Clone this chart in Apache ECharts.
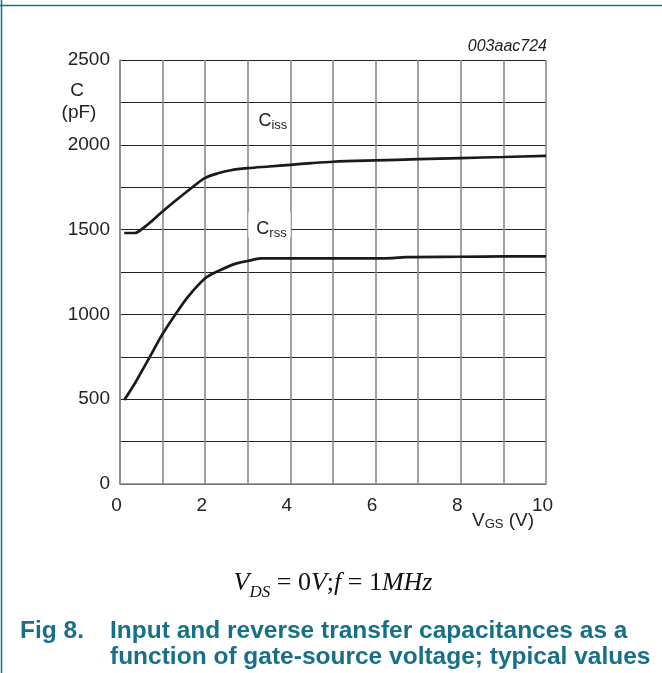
<!DOCTYPE html>
<html>
<head>
<meta charset="utf-8">
<script src="https://cdn.jsdelivr.net/npm/echarts@6/dist/echarts.min.js"></script>
<style>
html,body{margin:0;padding:0;background:#fff;}
#chart{width:662px;height:673px;}
</style>
</head>
<body>
<div id="chart"></div>
<script>
// ---- data ----
const xTicks = [0,1,2,3,4,5,6,7,8,9,10];
const xTickLabels = ['0','','2','','4','','6','','8','','10'];
const yTicks = [0,250,500,750,1000,1250,1500,1750,2000,2250,2500];
const yTickLabels = ['0','','500','','1000','','1500','','2000','','2500'];

const cissVgs = [0.1, 0.35, 0.5, 0.7, 0.95, 1.3, 1.7, 2.0, 2.3, 2.6, 3.0, 3.5, 4.0, 4.5, 5.0, 6.0, 7.0, 8.0, 9.0, 10.0];
const cissC   = [1480, 1480, 1500, 1540, 1596, 1670, 1750, 1805, 1832, 1850, 1862, 1872, 1882, 1892, 1900, 1908, 1915, 1922, 1928, 1935];

const crssVgs = [0.1, 0.35, 0.7, 1.0, 1.3, 1.6, 2.0, 2.3, 2.7, 3.0, 3.3, 4.0, 5.0, 6.0, 6.4, 6.7, 8.0, 9.0, 10.0];
const crssC   = [495, 594, 750, 885, 1000, 1105, 1213, 1255, 1298, 1315, 1330, 1330, 1330, 1330, 1332, 1338, 1340, 1342, 1342];

const cissLabelAt = [3.25, 2085];
const crssLabelAt = [3.2, 1500];

const TEAL = '#17708a';
const chart = echarts.init(document.getElementById('chart'), null, {renderer:'canvas'});

function pairs(xs, ys){ return xs.map((x,i)=>[x, ys[i]]); }

const option = {
  animation:false,
  backgroundColor:'#fff',
  grid:{left:120, top:60, right:116, bottom:189, containLabel:false},
  xAxis:{
    type:'value', min:0, max:10, interval:1,
    axisLine:{show:true, lineStyle:{color:'#8a8a8a', width:1.5}},
    axisTick:{show:false},
    splitLine:{show:true, lineStyle:{color:'#8a8a8a', width:1.6}},
    axisLabel:{
      margin:12, fontSize:19, color:'#222', fontFamily:'Liberation Sans',
      padding:[0,7,0,0],
      formatter:(v)=>{ const i = xTicks.indexOf(v); return i>=0 ? xTickLabels[i] : ''; }
    }
  },
  yAxis:{
    type:'value', min:0, max:2500, interval:250,
    axisLine:{show:true, lineStyle:{color:'#8a8a8a', width:1.5}},
    axisTick:{show:false},
    splitLine:{show:true, lineStyle:{color:'#222', width:1}},
    axisLabel:{
      margin:10, fontSize:19, color:'#222', fontFamily:'Liberation Sans',
      padding:[3,0,0,0],
      formatter:(v)=>{ const i = yTicks.indexOf(v); return i>=0 ? yTickLabels[i] : ''; }
    }
  },
  series:[
    {type:'line', data:pairs(cissVgs, cissC), smooth:0.3, showSymbol:false,
     lineStyle:{color:'#1a1a1a', width:2.7}, z:5},
    {type:'line', data:pairs(crssVgs, crssC), smooth:0.3, showSymbol:false,
     lineStyle:{color:'#1a1a1a', width:2.7}, z:5}
  ]
};
chart.setOption(option);

// text measuring helper
const mctx = document.createElement('canvas').getContext('2d');
function measure(t, font){ mctx.font = font; return mctx.measureText(t).width; }
function pieces(list, x, y, color, z){
  const out = [];
  let cx = x;
  list.forEach(p=>{
    const [t, fs, fam, st, wt, dy] = p;
    const font = `${st} ${wt} ${fs}px "${fam}"`;
    out.push({type:'text', z:z||10, style:{text:t, x:cx, y:y+(dy||0), fill:color, font:font, verticalAlign:'bottom'}});
    cx += measure(t, font);
  });
  return {els:out, width:cx-x};
}

const g = [];
// page frame lines
g.push({type:'line', shape:{x1:0,y1:5.5,x2:662,y2:5.5}, style:{stroke:TEAL, lineWidth:1.5}});
g.push({type:'line', shape:{x1:1.5,y1:0,x2:1.5,y2:673}, style:{stroke:TEAL, lineWidth:1.5}});

// id text
g.push({type:'text', style:{text:'003aac724', x:547, y:55, fill:'#222', font:'italic 16px "Liberation Sans"', align:'right', verticalAlign:'bottom'}});

// y axis name
g.push({type:'text', style:{text:'C', x:77, y:91, fill:'#222', font:'19px "Liberation Sans"', align:'center', verticalAlign:'middle'}});
g.push({type:'text', style:{text:'(pF)', x:79, y:113, fill:'#222', font:'19px "Liberation Sans"', align:'center', verticalAlign:'middle'}});

// x axis name V_GS (V)
pieces([['V',19,'Liberation Sans','normal','normal',0],['GS',13,'Liberation Sans','normal','normal',1],[' (V)',19,'Liberation Sans','normal','normal',0]], 472, 530, '#222').els.forEach(e=>g.push(e));

// curve labels
const pC = chart.convertToPixel({gridIndex:0}, cissLabelAt);
pieces([['C',18,'Liberation Sans','normal','normal',0],['iss',13,'Liberation Sans','normal','normal',2]], pC[0], pC[1], '#222').els.forEach(e=>g.push(e));
const pR = chart.convertToPixel({gridIndex:0}, crssLabelAt);
const rl = pieces([['C',18,'Liberation Sans','normal','normal',0],['rss',13,'Liberation Sans','normal','normal',2]], pR[0], pR[1]+8, '#222', 12);
g.push({type:'rect', z:11, shape:{x:pR[0]-8, y:pR[1]-17, width:rl.width+12, height:25}, style:{fill:'#fff'}});
rl.els.forEach(e=>g.push(e));

// formula
const serif = 'Liberation Serif';
const f = pieces([
  ['V',26,serif,'italic','normal',0],
  ['DS',17,serif,'italic','normal',5],
  [' = 0',26,serif,'normal','normal',0],
  ['V',26,serif,'italic','normal',0],
  [';',26,serif,'normal','normal',0],
  ['f',26,serif,'italic','normal',0],
  [' = 1',26,serif,'normal','normal',0],
  ['MHz',26,serif,'italic','normal',0]
], 0, 0, '#111');
const fx = 333 - f.width/2;
f.els.forEach(e=>{ e.style.x += fx; e.style.y += 596; g.push(e); });

// title
const tFont = 'bold 24.5px "Liberation Sans"';
g.push({type:'text', style:{text:'Fig 8.', x:20, y:631, fill:TEAL, font:tFont, verticalAlign:'middle'}});
g.push({type:'text', style:{text:'Input and reverse transfer capacitances as a', x:110, y:631, fill:TEAL, font:tFont, verticalAlign:'middle'}});
g.push({type:'text', style:{text:'function of gate-source voltage; typical values', x:110, y:657, fill:TEAL, font:tFont, verticalAlign:'middle'}});

chart.setOption({graphic:g});
</script>
</body>
</html>
